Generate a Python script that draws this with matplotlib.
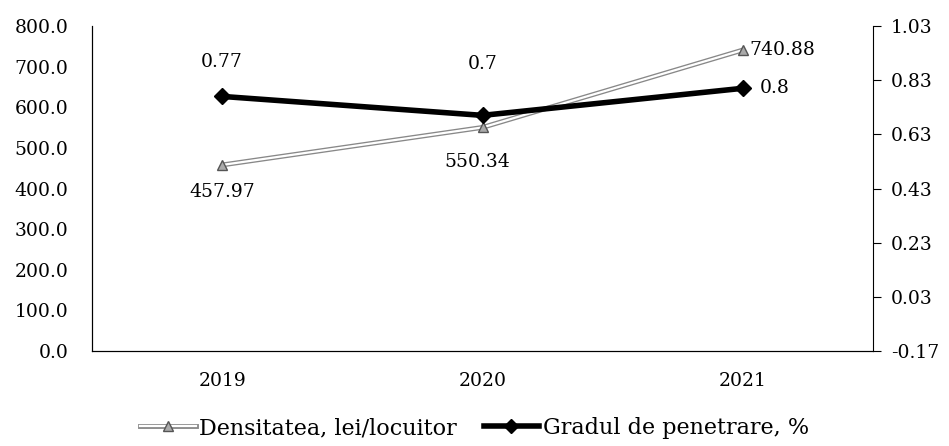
import numpy as np
import matplotlib.pyplot as plt
from matplotlib.lines import Line2D

plt.rcParams['font.family'] = ['DejaVu Serif']

# date
ani = ['2019', '2020', '2021']
densitate = [457.97, 550.34, 740.88]
penetrare = [0.77, 0.70, 0.80]
ticks_stanga = [0, 100, 200, 300, 400, 500, 600, 700, 800]
ticks_dreapta = [-0.17, 0.03, 0.23, 0.43, 0.63, 0.83, 1.03]

x = np.arange(len(ani)) + 0.5
fs = 13.5

fig = plt.figure(figsize=(9.49, 4.46), dpi=100)
ax = fig.add_axes([92/949, 1 - 351/446, 781/949, 325/446])
ax2 = ax.twinx()

# linia dubla (contur gri, interior alb)
ax.plot(x, densitate, color='#888888', lw=3.5, solid_capstyle='butt', zorder=2)
ax.plot(x, densitate, color='white', lw=1.6, marker='^', ms=7,
        mfc='#aaaaaa', mec='#555555', zorder=3)
ax2.plot(x, penetrare, color='black', lw=4, marker='D', ms=8, zorder=4)

ax.set_xlim(0, 3)
ax.set_ylim(0, 800)
ax.set_yticks(ticks_stanga)
ax.set_yticklabels([f'{v:.1f}' for v in ticks_stanga])
ax.set_xticks(x)
ax.set_xticklabels(ani)
ax2.set_ylim(-0.17, 1.03)
ax2.set_yticks(ticks_dreapta)
ax2.set_yticklabels([f'{v:.2f}' for v in ticks_dreapta])

for a in (ax, ax2):
    a.spines['top'].set_visible(False)
ax.spines['right'].set_visible(False)
ax.tick_params(axis='y', length=0, pad=17, labelsize=fs)
ax.tick_params(axis='x', length=0, pad=15, labelsize=fs)
ax2.tick_params(axis='y', length=6, direction='out', pad=7, labelsize=fs)

# etichete
ax2.annotate('0.77', (x[0], penetrare[0]), xytext=(0, 24.5), textcoords='offset points',
             ha='center', va='center', fontsize=fs)
ax.annotate('457.97', (x[0], densitate[0]), xytext=(0, -19.5), textcoords='offset points',
            ha='center', va='center', fontsize=fs)
ax2.annotate('0.7', (x[1], penetrare[1]), xytext=(0, 37), textcoords='offset points',
             ha='center', va='center', fontsize=fs)
ax.annotate('550.34', (x[1], densitate[1]), xytext=(-4, -25), textcoords='offset points',
            ha='center', va='center', fontsize=fs)
ax.annotate('740.88', (x[2], densitate[2]), xytext=(5, 0), textcoords='offset points',
            ha='left', va='center', fontsize=fs)
ax2.annotate('0.8', (x[2], penetrare[2]), xytext=(12, 0), textcoords='offset points',
             ha='left', va='center', fontsize=fs)

# legenda
h1 = (Line2D([], [], color='#888888', lw=3.5),
      Line2D([], [], color='white', lw=1.6, marker='^', ms=7, mfc='#aaaaaa', mec='#555555'))
h2 = Line2D([], [], color='black', lw=4, marker='D', ms=7)
fig.legend([h1, h2], ['Densitatea, lei/locuitor', 'Gradul de penetrare, %'],
           loc='center', bbox_to_anchor=(0.5, 1 - 428/446), ncol=2, frameon=False,
           fontsize=16, handlelength=2.5, handletextpad=0.15, columnspacing=1.2)

plt.savefig('out.png', dpi=100)
